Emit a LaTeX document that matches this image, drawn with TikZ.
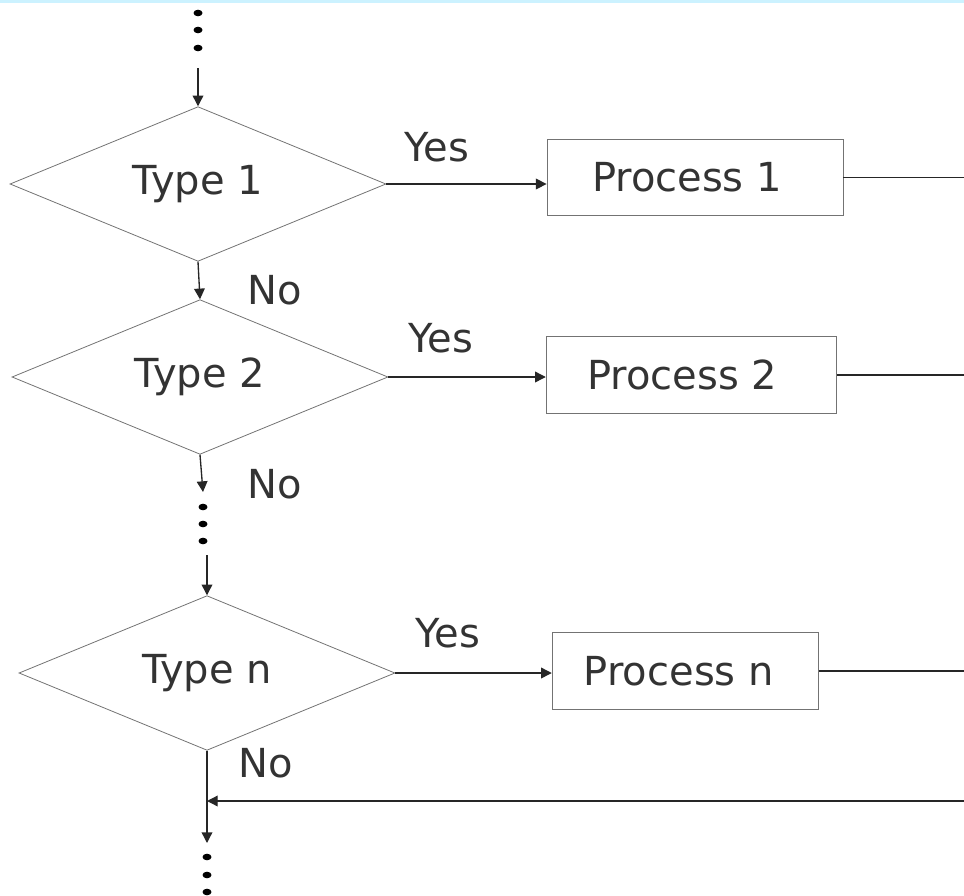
\documentclass[tikz,border=0pt]{standalone}
\usepackage{fontspec}
\setmainfont{DejaVu Sans}
\usetikzlibrary{shapes.geometric,arrows.meta}

\tikzset{
  decision/.style={diamond, aspect=2.4, draw=black!55, line width=0.6pt, inner sep=0pt,
    minimum width=282pt, minimum height=116pt, text=black!80,
    font=\fontsize{30}{36}\selectfont},
  process/.style={rectangle, draw=black!55, line width=0.6pt, inner sep=0pt,
    minimum height=57.5pt, text=black!80, font=\fontsize{30}{36}\selectfont},
  flow/.style={draw=black!85, line width=1pt, -{Triangle[length=8pt,width=8pt]}},
  plain/.style={draw=black!85, line width=1pt},
  branch/.style={text=black!80, inner sep=0pt, anchor=base, font=\fontsize{30}{36}\selectfont},
  dot/.style={fill=black}
}

\begin{document}
\begin{tikzpicture}[x=0.75pt,y=0.75pt,yscale=-1,xscale=1]
\useasboundingbox (0,0) rectangle (964,896);
\fill[blue!25!cyan!20] (0,0) rectangle (964,3);

% decisions
\node[decision] (d1) at (198,184) {Type 1};
\node[decision] (d2) at (200,377) {Type 2};
\node[decision] (dn) at (207,673) {Type n};

% processes
\node[process, minimum width=222pt] (p1) at (695,177.5) {Process 1\hspace*{12pt}};
\node[process, minimum width=218pt] (p2) at (691.5,375) {Process 2\hspace*{14pt}};
\node[process, minimum width=200pt] (pn) at (685.5,671) {Process n\hspace*{10pt}};

% free ends
\coordinate (topin) at (198,68);
\coordinate (gapout) at (203,492);
\coordinate (gapin) at (207,555);
\coordinate (merge) at (207,801);
\coordinate (exit) at (207,843);
\coordinate (edge) at (964,0);

% dots
\foreach \y in {13,30,48} \fill[dot] (198,\y) ellipse [x radius=4.5, y radius=3.3];
\foreach \y in {507,524,541} \fill[dot] (203,\y) ellipse [x radius=4.5, y radius=3.3];
\foreach \y in {857,875,892} \fill[dot] (207,\y) ellipse [x radius=4.5, y radius=3.3];

% main line
\draw[flow] (topin) -- (d1.north);
\draw[flow] (d1.south) -- (d2.north);
\draw[flow] (d2.south) -- (gapout);
\draw[flow] (gapin) -- (dn.north);
\draw[flow] (dn.south) -- (exit);
\draw[flow] (edge |- merge) -- (merge);

% yes branches
\draw[flow] (d1.east) -- (d1.east -| p1.west);
\draw[flow] (d2.east) -- (d2.east -| p2.west);
\draw[flow] (dn.east) -- (dn.east -| pn.west);
\draw[plain] (p1.east) -- (p1.east -| edge);
\draw[plain] (p2.east) -- (p2.east -| edge);
\draw[plain] (pn.east) -- (pn.east -| edge);

% labels
\node[branch] (yes1) at (437,161) {Yes};
\node[branch] (yes2) at (441,352) {Yes};
\node[branch] (yesn) at (448,647) {Yes};
\node[branch] (no1) at (275,304) {No};
\node[branch] (no2) at (275,498) {No};
\node[branch] (non) at (266,777) {No};
\end{tikzpicture}
\end{document}
